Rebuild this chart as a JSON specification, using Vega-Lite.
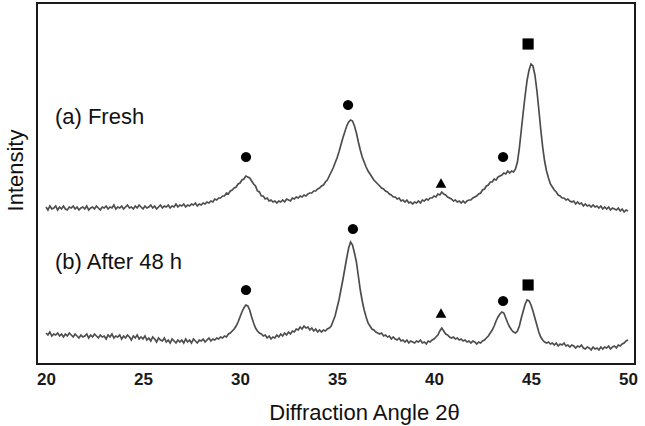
{
"$schema": "https://vega.github.io/schema/vega-lite/v6.json",
"width": 598, "height": 361,
"autosize": {"type": "none"},
"padding": {"left": 37, "top": 3, "right": 10, "bottom": 62},
"background": "white",
"config": {"view": {"stroke": "#1a1a1a", "strokeWidth": 2}, "font": "Liberation Sans"},
"datasets": {
"xrd": [
{"t":20.0,"a":157,"b":31},{"t":20.1,"a":154,"b":29},{"t":20.2,"a":158,"b":32},{"t":20.3,"a":155,"b":28},{"t":20.4,"a":156,"b":30},{"t":20.5,"a":158,"b":29},{"t":20.6,"a":154,"b":31},{"t":20.7,"a":157,"b":28},{"t":20.8,"a":155,"b":30},{"t":20.9,"a":158,"b":27},
{"t":21.0,"a":155,"b":30},{"t":21.1,"a":154,"b":28},{"t":21.2,"a":157,"b":31},{"t":21.3,"a":156,"b":29},{"t":21.4,"a":158,"b":27},{"t":21.5,"a":155,"b":30},{"t":21.6,"a":157,"b":28},{"t":21.7,"a":154,"b":26},{"t":21.8,"a":156,"b":29},{"t":21.9,"a":157,"b":27},
{"t":22.0,"a":155,"b":28},{"t":22.1,"a":158,"b":30},{"t":22.2,"a":154,"b":26},{"t":22.3,"a":156,"b":29},{"t":22.4,"a":157,"b":27},{"t":22.5,"a":155,"b":30},{"t":22.6,"a":158,"b":28},{"t":22.7,"a":156,"b":26},{"t":22.8,"a":154,"b":29},{"t":22.9,"a":157,"b":27},
{"t":23.0,"a":156,"b":28},{"t":23.1,"a":158,"b":25},{"t":23.2,"a":155,"b":29},{"t":23.3,"a":157,"b":27},{"t":23.4,"a":156,"b":30},{"t":23.5,"a":159,"b":26},{"t":23.6,"a":155,"b":28},{"t":23.7,"a":157,"b":27},{"t":23.8,"a":156,"b":29},{"t":23.9,"a":158,"b":25},
{"t":24.0,"a":155,"b":28},{"t":24.1,"a":157,"b":26},{"t":24.2,"a":159,"b":29},{"t":24.3,"a":156,"b":27},{"t":24.4,"a":157,"b":24},{"t":24.5,"a":155,"b":28},{"t":24.6,"a":158,"b":26},{"t":24.7,"a":156,"b":29},{"t":24.8,"a":159,"b":25},{"t":24.9,"a":157,"b":27},
{"t":25.0,"a":155,"b":25},{"t":25.1,"a":158,"b":28},{"t":25.2,"a":156,"b":24},{"t":25.3,"a":157,"b":26},{"t":25.4,"a":159,"b":23},{"t":25.5,"a":156,"b":27},{"t":25.6,"a":158,"b":25},{"t":25.7,"a":155,"b":22},{"t":25.8,"a":157,"b":26},{"t":25.9,"a":159,"b":24},
{"t":26.0,"a":156,"b":23},{"t":26.1,"a":158,"b":26},{"t":26.2,"a":157,"b":22},{"t":26.3,"a":159,"b":24},{"t":26.4,"a":156,"b":21},{"t":26.5,"a":158,"b":25},{"t":26.6,"a":157,"b":23},{"t":26.7,"a":160,"b":21},{"t":26.8,"a":157,"b":24},{"t":26.9,"a":159,"b":22},
{"t":27.0,"a":158,"b":24},{"t":27.1,"a":160,"b":21},{"t":27.2,"a":157,"b":25},{"t":27.3,"a":159,"b":22},{"t":27.4,"a":158,"b":24},{"t":27.5,"a":160,"b":21},{"t":27.6,"a":159,"b":25},{"t":27.7,"a":161,"b":23},{"t":27.8,"a":158,"b":21},{"t":27.9,"a":160,"b":24},
{"t":28.0,"a":159,"b":23},{"t":28.1,"a":161,"b":25},{"t":28.2,"a":160,"b":22},{"t":28.3,"a":162,"b":24},{"t":28.4,"a":161,"b":26},{"t":28.5,"a":163,"b":23},{"t":28.6,"a":162,"b":25},{"t":28.7,"a":165,"b":24},{"t":28.8,"a":164,"b":26},{"t":28.9,"a":166,"b":25},
{"t":29.0,"a":166,"b":27},{"t":29.1,"a":168,"b":26},{"t":29.2,"a":168,"b":28},{"t":29.3,"a":171,"b":27},{"t":29.4,"a":170,"b":30},{"t":29.5,"a":173,"b":31},{"t":29.6,"a":174,"b":33},{"t":29.7,"a":176,"b":35},{"t":29.8,"a":177,"b":38},{"t":29.9,"a":180,"b":42},
{"t":30.0,"a":181,"b":47},{"t":30.1,"a":184,"b":52},{"t":30.2,"a":185,"b":56},{"t":30.3,"a":188,"b":59},{"t":30.4,"a":187,"b":58},{"t":30.5,"a":186,"b":54},{"t":30.6,"a":183,"b":47},{"t":30.7,"a":180,"b":41},{"t":30.8,"a":178,"b":36},{"t":30.9,"a":173,"b":33},
{"t":31.0,"a":172,"b":31},{"t":31.1,"a":168,"b":30},{"t":31.2,"a":168,"b":28},{"t":31.3,"a":165,"b":29},{"t":31.4,"a":166,"b":26},{"t":31.5,"a":163,"b":28},{"t":31.6,"a":164,"b":25},{"t":31.7,"a":162,"b":27},{"t":31.8,"a":163,"b":26},{"t":31.9,"a":161,"b":29},
{"t":32.0,"a":163,"b":27},{"t":32.1,"a":162,"b":30},{"t":32.2,"a":164,"b":28},{"t":32.3,"a":162,"b":31},{"t":32.4,"a":165,"b":29},{"t":32.5,"a":164,"b":32},{"t":32.6,"a":163,"b":30},{"t":32.7,"a":166,"b":33},{"t":32.8,"a":165,"b":32},{"t":32.9,"a":167,"b":35},
{"t":33.0,"a":166,"b":34},{"t":33.1,"a":168,"b":37},{"t":33.2,"a":167,"b":35},{"t":33.3,"a":169,"b":38},{"t":33.4,"a":168,"b":36},{"t":33.5,"a":170,"b":37},{"t":33.6,"a":171,"b":34},{"t":33.7,"a":171,"b":36},{"t":33.8,"a":173,"b":33},{"t":33.9,"a":173,"b":35},
{"t":34.0,"a":175,"b":32},{"t":34.1,"a":176,"b":34},{"t":34.2,"a":178,"b":32},{"t":34.3,"a":179,"b":34},{"t":34.4,"a":182,"b":33},{"t":34.5,"a":184,"b":35},{"t":34.6,"a":188,"b":36},{"t":34.7,"a":192,"b":38},{"t":34.8,"a":196,"b":43},{"t":34.9,"a":201,"b":48},
{"t":35.0,"a":206,"b":56},{"t":35.1,"a":212,"b":64},{"t":35.2,"a":219,"b":74},{"t":35.3,"a":226,"b":84},{"t":35.4,"a":232,"b":95},{"t":35.5,"a":238,"b":106},{"t":35.6,"a":242,"b":116},{"t":35.7,"a":244,"b":122},{"t":35.8,"a":243,"b":119},{"t":35.9,"a":238,"b":111},
{"t":36.0,"a":231,"b":102},{"t":36.1,"a":222,"b":88},{"t":36.2,"a":214,"b":74},{"t":36.3,"a":207,"b":63},{"t":36.4,"a":202,"b":54},{"t":36.5,"a":197,"b":47},{"t":36.6,"a":193,"b":41},{"t":36.7,"a":190,"b":38},{"t":36.8,"a":187,"b":35},{"t":36.9,"a":184,"b":34},
{"t":37.0,"a":182,"b":32},{"t":37.1,"a":180,"b":31},{"t":37.2,"a":178,"b":30},{"t":37.3,"a":176,"b":31},{"t":37.4,"a":175,"b":28},{"t":37.5,"a":173,"b":29},{"t":37.6,"a":172,"b":27},{"t":37.7,"a":170,"b":28},{"t":37.8,"a":169,"b":25},{"t":37.9,"a":167,"b":27},
{"t":38.0,"a":167,"b":25},{"t":38.1,"a":165,"b":24},{"t":38.2,"a":166,"b":26},{"t":38.3,"a":163,"b":23},{"t":38.4,"a":164,"b":24},{"t":38.5,"a":162,"b":22},{"t":38.6,"a":164,"b":24},{"t":38.7,"a":161,"b":21},{"t":38.8,"a":162,"b":23},{"t":38.9,"a":160,"b":22},
{"t":39.0,"a":162,"b":21},{"t":39.1,"a":161,"b":23},{"t":39.2,"a":163,"b":22},{"t":39.3,"a":161,"b":24},{"t":39.4,"a":164,"b":21},{"t":39.5,"a":163,"b":22},{"t":39.6,"a":165,"b":20},{"t":39.7,"a":164,"b":23},{"t":39.8,"a":166,"b":22},{"t":39.9,"a":166,"b":24},
{"t":40.0,"a":168,"b":25},{"t":40.1,"a":167,"b":27},{"t":40.2,"a":170,"b":29},{"t":40.3,"a":169,"b":33},{"t":40.4,"a":172,"b":36},{"t":40.5,"a":170,"b":33},{"t":40.6,"a":169,"b":30},{"t":40.7,"a":167,"b":29},{"t":40.8,"a":166,"b":27},{"t":40.9,"a":165,"b":26},
{"t":41.0,"a":163,"b":27},{"t":41.1,"a":164,"b":25},{"t":41.2,"a":162,"b":26},{"t":41.3,"a":163,"b":24},{"t":41.4,"a":161,"b":25},{"t":41.5,"a":163,"b":23},{"t":41.6,"a":161,"b":24},{"t":41.7,"a":163,"b":22},{"t":41.8,"a":164,"b":23},{"t":41.9,"a":164,"b":21},
{"t":42.0,"a":166,"b":23},{"t":42.1,"a":167,"b":22},{"t":42.2,"a":168,"b":20},{"t":42.3,"a":170,"b":22},{"t":42.4,"a":171,"b":21},{"t":42.5,"a":174,"b":23},{"t":42.6,"a":175,"b":24},{"t":42.7,"a":178,"b":26},{"t":42.8,"a":179,"b":28},{"t":42.9,"a":182,"b":31},
{"t":43.0,"a":182,"b":34},{"t":43.1,"a":185,"b":38},{"t":43.2,"a":184,"b":43},{"t":43.3,"a":187,"b":47},{"t":43.4,"a":188,"b":50},{"t":43.5,"a":189,"b":52},{"t":43.6,"a":191,"b":51},{"t":43.7,"a":190,"b":46},{"t":43.8,"a":193,"b":41},{"t":43.9,"a":191,"b":37},
{"t":44.0,"a":193,"b":34},{"t":44.1,"a":192,"b":32},{"t":44.2,"a":195,"b":31},{"t":44.3,"a":202,"b":33},{"t":44.4,"a":216,"b":38},{"t":44.5,"a":234,"b":46},{"t":44.6,"a":252,"b":53},{"t":44.7,"a":269,"b":60},{"t":44.8,"a":284,"b":64},{"t":44.9,"a":294,"b":63},
{"t":45.0,"a":300,"b":59},{"t":45.1,"a":298,"b":53},{"t":45.2,"a":289,"b":46},{"t":45.3,"a":274,"b":39},{"t":45.4,"a":255,"b":32},{"t":45.5,"a":235,"b":27},{"t":45.6,"a":217,"b":24},{"t":45.7,"a":203,"b":22},{"t":45.8,"a":193,"b":21},{"t":45.9,"a":186,"b":22},
{"t":46.0,"a":180,"b":20},{"t":46.1,"a":177,"b":21},{"t":46.2,"a":174,"b":19},{"t":46.3,"a":172,"b":21},{"t":46.4,"a":169,"b":18},{"t":46.5,"a":168,"b":20},{"t":46.6,"a":166,"b":19},{"t":46.7,"a":166,"b":21},{"t":46.8,"a":164,"b":18},{"t":46.9,"a":165,"b":19},
{"t":47.0,"a":163,"b":17},{"t":47.1,"a":162,"b":19},{"t":47.2,"a":163,"b":18},{"t":47.3,"a":160,"b":16},{"t":47.4,"a":162,"b":18},{"t":47.5,"a":160,"b":17},{"t":47.6,"a":161,"b":19},{"t":47.7,"a":158,"b":16},{"t":47.8,"a":160,"b":15},{"t":47.9,"a":158,"b":17},
{"t":48.0,"a":159,"b":16},{"t":48.1,"a":157,"b":14},{"t":48.2,"a":159,"b":17},{"t":48.3,"a":157,"b":15},{"t":48.4,"a":158,"b":16},{"t":48.5,"a":156,"b":14},{"t":48.6,"a":158,"b":17},{"t":48.7,"a":155,"b":15},{"t":48.8,"a":157,"b":17},{"t":48.9,"a":155,"b":16},
{"t":49.0,"a":157,"b":18},{"t":49.1,"a":154,"b":15},{"t":49.2,"a":156,"b":17},{"t":49.3,"a":155,"b":18},{"t":49.4,"a":154,"b":16},{"t":49.5,"a":156,"b":19},{"t":49.6,"a":153,"b":18},{"t":49.7,"a":155,"b":20},{"t":49.8,"a":152,"b":21},{"t":49.9,"a":154,"b":23},
{"t":50.0,"a":153,"b":24}
],
"marks": [
{"t":30.31,"v":207,"m":"circle"},{"t":35.57,"v":259,"m":"circle"},{"t":40.36,"v":181,"m":"triangle"},{"t":43.56,"v":207,"m":"circle"},{"t":44.85,"v":320,"m":"square"},
{"t":30.31,"v":74,"m":"circle"},{"t":35.82,"v":135,"m":"circle"},{"t":40.36,"v":51,"m":"triangle"},{"t":43.56,"v":63,"m":"circle"},{"t":44.85,"v":79,"m":"square"}
],
"labels": [
{"t":20.46,"v":247,"label":"(a) Fresh"},
{"t":20.46,"v":102,"label":"(b) After 48 h"}
]
},
"layer": [
{
"data": {"name": "xrd"},
"transform": [{"fold": ["a", "b"], "as": ["s", "v"]}],
"mark": {"type": "line", "color": "#4d4d4d", "strokeWidth": 1.7, "interpolate": "linear"},
"encoding": {
"x": {"field": "t", "type": "quantitative", "scale": {"domain": [19.536, 50.36], "nice": false, "zero": false},
"axis": {"values": [20, 25, 30, 35, 40, 45, 50], "title": "Diffraction Angle 2θ", "grid": false, "domain": false, "ticks": false,
"labelFont": "Liberation Sans", "labelFontSize": 17, "labelFontWeight": "bold", "labelColor": "#1a1a1a", "labelPadding": 15, "labelBaseline": "middle", "labelFlush": false,
"titleFont": "Liberation Sans", "titleFontSize": 22, "titleFontWeight": "normal", "titleColor": "#111", "titleX": 327, "titleY": 48, "titleBaseline": "middle", "titleAlign": "center", "titleAnchor": null}},
"y": {"field": "v", "type": "quantitative", "scale": {"domain": [0, 361], "nice": false},
"axis": {"title": "Intensity", "labels": false, "ticks": false, "grid": false, "domain": false,
"titleFont": "Liberation Sans", "titleFontSize": 22, "titleFontWeight": "normal", "titleColor": "#111", "titleX": -22, "titleY": 167, "titleBaseline": "middle", "titleAlign": "center", "titleAngle": -90}},
"detail": {"field": "s"}
}
},
{
"data": {"name": "marks"},
"mark": {"type": "point", "filled": true, "color": "#000", "opacity": 1},
"encoding": {
"x": {"field": "t", "type": "quantitative"},
"y": {"field": "v", "type": "quantitative"},
"shape": {"field": "m", "type": "nominal", "scale": {"domain": ["circle", "triangle", "square"], "range": ["circle", "triangle-up", "square"]}, "legend": null},
"size": {"field": "m", "type": "nominal", "scale": {"domain": ["circle", "triangle", "square"], "range": [105, 125, 140]}, "legend": null}
}
},
{
"data": {"name": "labels"},
"mark": {"type": "text", "align": "left", "baseline": "middle", "font": "Liberation Sans", "fontSize": 22, "color": "#111"},
"encoding": {
"x": {"field": "t", "type": "quantitative"},
"y": {"field": "v", "type": "quantitative"},
"text": {"field": "label"}
}
}
]
}
